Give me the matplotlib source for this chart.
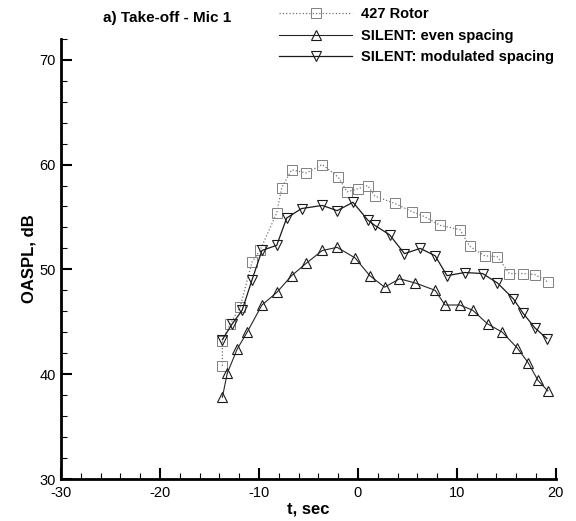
import matplotlib
matplotlib.use("Agg")
import matplotlib.pyplot as plt
from matplotlib.ticker import MultipleLocator

plt.rcParams['font.family'] = ['Liberation Sans', 'DejaVu Sans']
plt.rcParams['axes.unicode_minus'] = False

# 427 Rotor
t_rotor = [-13.7, -13.7, -12.9, -11.9, -10.7, -9.9, -8.2, -7.7, -6.7, -5.2, -3.6, -2.0, -1.1,
           0.0, 1.0, 1.7, 3.7, 5.5, 6.8, 8.3, 10.3, 11.3, 12.8, 14.1, 15.3, 16.7, 17.9, 19.2]
y_rotor = [40.8, 43.2, 44.8, 46.4, 50.7, 51.8, 55.4, 57.8, 59.5, 59.2, 60.0, 58.8, 57.4,
           57.7, 58.0, 57.0, 56.3, 55.5, 55.0, 54.2, 53.8, 52.2, 51.3, 51.2, 49.6, 49.6, 49.5, 48.8]

# SILENT: even spacing
t_even = [-13.7, -13.2, -12.2, -11.2, -9.7, -8.2, -6.7, -5.2, -3.6, -2.1, -0.3, 1.2, 2.7,
          4.2, 5.8, 7.8, 8.8, 10.3, 11.6, 13.1, 14.6, 16.1, 17.2, 18.2, 19.2]
y_even = [37.8, 40.1, 42.4, 44.0, 46.6, 47.8, 49.4, 50.6, 51.8, 52.1, 51.1, 49.4, 48.3,
          49.1, 48.7, 48.0, 46.6, 46.6, 46.1, 44.8, 44.0, 42.5, 41.1, 39.4, 38.4]

# SILENT: modulated spacing
t_mod = [-13.7, -12.7, -11.7, -10.7, -9.7, -8.2, -7.2, -5.7, -3.6, -2.1, -0.5, 1.0, 1.7,
         3.2, 4.7, 6.3, 7.8, 9.0, 10.8, 12.6, 14.1, 15.7, 16.7, 17.9, 19.1]
y_mod = [43.3, 44.8, 46.1, 49.0, 51.8, 52.3, 54.9, 55.8, 56.1, 55.6, 56.4, 54.7, 54.2,
         53.3, 51.5, 52.0, 51.3, 49.4, 49.7, 49.6, 48.7, 47.2, 45.8, 44.4, 43.4]

x_ticks = [-30, -20, -10, 0, 10, 20]
y_ticks = [30, 40, 50, 60, 70]

fig = plt.figure(figsize=(5.76, 5.21), dpi=100)
ax = fig.add_axes([0.106, 0.0806, 0.859, 0.845])

ax.plot(t_rotor, y_rotor, color='0.45', lw=0.9, ls=':', marker='s', ms=6.5,
        mfc='none', mec='0.5', mew=0.7, label='427 Rotor')
ax.plot(t_even, y_even, color='0.15', lw=0.8, ls='-', marker='^', ms=7.5,
        mfc='none', mec='0.1', mew=0.8, label='SILENT: even spacing')
ax.plot(t_mod, y_mod, color='0.1', lw=0.9, ls='-', marker='v', ms=7.5,
        mfc='none', mec='0.1', mew=0.8, label='SILENT: modulated spacing')

ax.set_xlim(-30, 20)
ax.set_ylim(30, 72)
ax.set_xticks(x_ticks)
ax.set_yticks(y_ticks)
ax.xaxis.set_minor_locator(MultipleLocator(2))
ax.yaxis.set_minor_locator(MultipleLocator(2))
ax.tick_params(which='major', direction='in', length=8, width=1.5, labelsize=10.5)
ax.tick_params(axis='x', which='major', pad=5)
ax.tick_params(axis='y', which='major', pad=4)
ax.tick_params(which='minor', direction='in', length=4, width=0.8)
ax.spines['top'].set_visible(False)
ax.spines['right'].set_visible(False)
ax.spines['left'].set_linewidth(2)
ax.spines['bottom'].set_linewidth(2)

ax.set_xlabel('t, sec', fontsize=12, fontweight='bold', labelpad=1)
ax.set_ylabel('OASPL, dB', fontsize=12, fontweight='bold', labelpad=2)

fig.text(0.178, 0.965, 'a) Take-off - Mic 1', fontsize=11, fontweight='bold',
         ha='left', va='center')

leg = fig.legend(loc='upper left', bbox_to_anchor=(0.475, 0.997), frameon=False,
                 handlelength=5.0, labelspacing=0.5, handletextpad=0.6,
                 prop={'size': 10.5, 'weight': 'bold'}, borderaxespad=0)

fig.savefig('out.png', dpi=100)
